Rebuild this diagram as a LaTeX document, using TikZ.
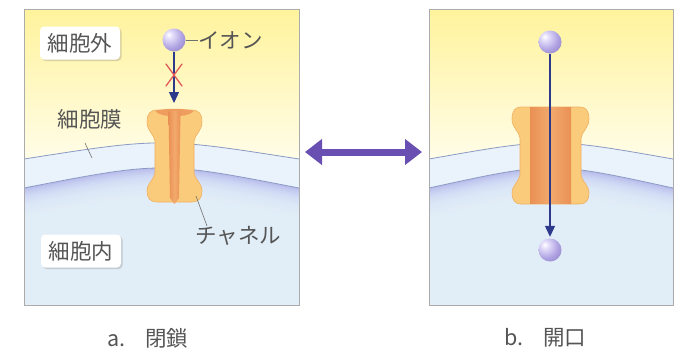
\documentclass[tikz,border=0pt]{standalone}
\usepackage{fontspec}
\newfontfamily\jp{Noto Sans CJK JP}
\usetikzlibrary{arrows.meta,shadows}

\definecolor{outtop}{HTML}{FFF39C}
\definecolor{outbot}{HTML}{FFFDE8}
\definecolor{bandc}{HTML}{EAF2FB}
\definecolor{deepin}{HTML}{B9BEEC}
\definecolor{inside}{HTML}{E6F2FC}
\definecolor{memc}{HTML}{8A9AC4}
\definecolor{framec}{HTML}{ABABAB}
\definecolor{lobec}{HTML}{FACB7A}
\definecolor{lobeedge}{HTML}{F0B062}
\definecolor{stripec}{HTML}{EA9055}
\definecolor{stripemid}{HTML}{F2AA6C}
\definecolor{capc}{HTML}{EE9D5E}
\definecolor{ionlight}{HTML}{E4DEFA}
\definecolor{ionc}{HTML}{AFA2E2}
\definecolor{iondark}{HTML}{8476BC}
\definecolor{arrowc}{HTML}{2D3A8C}
\definecolor{xred}{HTML}{E25B5B}
\definecolor{dblc}{HTML}{6A4FB3}
\definecolor{txtc}{HTML}{555555}
\definecolor{leadc}{HTML}{707070}

% lit sphere for the ions, highlight up and to the left
\pgfdeclareradialshading{ionball}{\pgfpoint{-12bp}{12bp}}{%
  color(0bp)=(white); color(8bp)=(ionlight); color(26bp)=(ionc);
  color(48bp)=(iondark); color(100bp)=(iondark)}

% one cell panel: #1 left x, #2 right x, #3 centre x, #4 name
\newcommand\cellpanel[4]{%
  \fill[inside] (#1,9) rectangle (#2,305);
  \fill[deepin] (#1,188) .. controls (#3,161.3) .. (#2,188) -- (#2,305) -- (#1,305) -- cycle;
  \foreach \s in {2,4,...,34}{%
    \fill[inside,opacity=0.19] (#1,188+\s) .. controls (#3,161.3+\s) .. (#2,188+\s) -- (#2,305) -- (#1,305) -- cycle;}
  \fill[bandc] (#1,159) .. controls (#3,137.5) .. (#2,159) -- (#2,188) .. controls (#3,161.3) .. (#1,188) -- cycle;
  \shade[top color=outtop, bottom color=outbot] (#1,9) -- (#2,9) -- (#2,159) .. controls (#3,137.5) .. (#1,159) -- cycle;
  \draw[memline] (#1,159) .. controls (#3,137.5) .. (#2,159);
  \draw[memline] (#1,188) .. controls (#3,161.3) .. (#2,188);
  \draw[framec, line width=0.8pt] (#1,9) rectangle (#2,305);
  \coordinate (#4-w) at (#1,157);
  \coordinate (#4-e) at (#2,157);
}

\tikzset{
  memline/.style={draw=memc, line width=0.8pt},
  lbl/.style={font=\jp\fontsize{21.5}{24}\selectfont, text=txtc, inner sep=0pt},
  lblbox/.style={lbl, fill=white, rounded corners=4pt, minimum width=80pt, minimum height=33pt,
    drop shadow={shadow xshift=1.5pt, shadow yshift=-1.5pt, opacity=0.25, fill=black!60}},
  ion/.style={circle, minimum size=23pt, inner sep=0pt, shading=ionball},
  ionarrow/.style={draw=arrowc, line width=1.2pt, -{Triangle[length=11pt,width=10pt]}},
  leader/.style={draw=leadc, line width=0.6pt},
  xmark/.style={draw=xred, line width=1.3pt, line cap=round},
  dblarrow/.style={draw=dblc, line width=7pt,
    {Triangle[length=17pt,width=25pt]}-{Triangle[length=17pt,width=25pt]}},
  lobe/.style={fill=lobec, draw=lobeedge, line width=0.6pt},
}

\begin{document}
\begin{tikzpicture}[x=1pt,y=-1pt]
\useasboundingbox (0,0) rectangle (687,357);
\fill[white] (0,0) rectangle (687,357);

% the two cell panels
\cellpanel{24}{299}{161.5}{pa}
\cellpanel{429}{673}{551}{pb}

% closed channel
\path[lobe] (174.5,110) -- (192,110) .. controls (199,110) and (202,114) .. (202,122)
  .. controls (202,131) and (195,134) .. (194,141) -- (194,173)
  .. controls (195,180) and (202,183) .. (202,191) .. controls (202,198) and (199,202) .. (192,202)
  -- (157,202) .. controls (150,202) and (147,198) .. (147,191)
  .. controls (147,183) and (154,180) .. (155,173) -- (155,141)
  .. controls (154,134) and (147,131) .. (147,122) .. controls (147,114) and (150,110) .. (157,110) -- cycle;
\fill[capc] (155,111) .. controls (165,108) and (184,108) .. (194,111)
  .. controls (188,118) and (161,118) .. (155,111) -- cycle;
\shade[left color=stripec, right color=stripec, middle color=stripemid]
  (168.5,111) -- (180.5,111) -- (179,198) -- (174.5,204) -- (170,198) -- cycle;

% open channel
\path[lobe] (550.5,107) -- (580,107) .. controls (586,107) and (589,111) .. (589,119)
  .. controls (589,128) and (582,131) .. (581,138) -- (581,175)
  .. controls (582,182) and (589,185) .. (589,193) .. controls (589,200) and (586,204) .. (580,204)
  -- (521,204) .. controls (515,204) and (512,200) .. (512,193)
  .. controls (512,185) and (519,182) .. (520,175) -- (520,138)
  .. controls (519,131) and (512,128) .. (512,119) .. controls (512,111) and (515,107) .. (521,107) -- cycle;
\shade[left color=stripec, right color=stripec, middle color=stripemid]
  (530,107.4) rectangle (571,203.6);

% ions
\node[ion] (ionA) at (174,40) {};
\node[ion] (ionB) at (550,42) {};
\node[ion] (ionC) at (550,250) {};
\coordinate (stopA) at (174,103);

% blocked passage
\draw[ionarrow] (ionA.south) -- (stopA);
\draw[xmark] (166,64) -- (182,86);
\draw[xmark] (182,64) -- (166,86);

% open passage
\draw[ionarrow, shorten >=1.5pt] (ionB.south) -- (ionC.north);

% labels
\node[lblbox] (lblOut) at (80,43) {細胞外};
\node[lblbox] (lblIn) at (81,251) {細胞内};
\node[lbl, anchor=west] (lblIon) at (198,40) {イオン};
\node[lbl] (lblMem) at (90,119) {細胞膜};
\node[lbl, anchor=west] (lblCh) at (195,236) {チャネル};

\draw[leader] (ionA.east) -- (lblIon.west);
\coordinate (memA) at (85,143);
\coordinate (memB) at (92,158);
\draw[leader] (memA) -- (memB);
\coordinate (chA) at (196,196);
\coordinate (chB) at (207,226);
\draw[leader] (chA) -- (chB);

% switching between the two states
\draw[dblarrow] ([shift={(6,-5)}]pa-e) -- ([shift={(-7,-5)}]pb-w);

% captions
\node[lbl, anchor=west] (capA) at (107,338) {a.\hspace{20pt}閉鎖};
\node[lbl, anchor=west] (capB) at (504,338) {b.\hspace{20pt}開口};
\end{tikzpicture}
\end{document}
